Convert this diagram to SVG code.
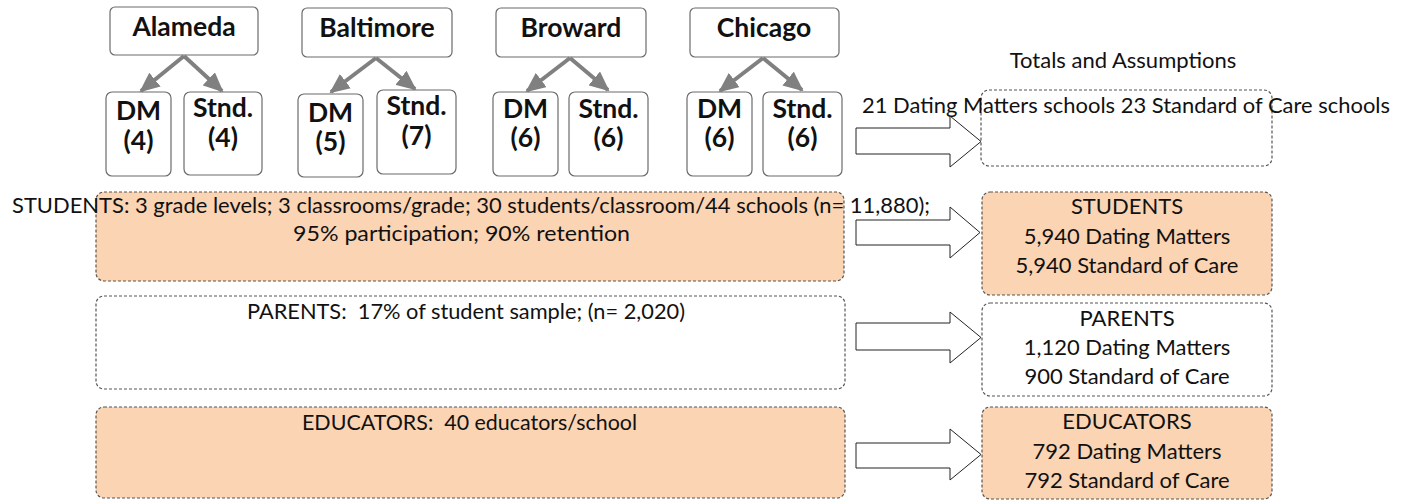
<svg xmlns="http://www.w3.org/2000/svg" width="1408" height="502" viewBox="0 0 1408 502">
<defs>
<style>
.city{fill:#fff;stroke:#6b6b6b;stroke-width:1.2}
.kid{fill:#fff;stroke:#6b6b6b;stroke-width:1.2}
.b{font-family:Lato,"Liberation Sans",sans-serif;font-weight:bold;font-size:26.5px;fill:#111;text-anchor:middle}
.t{font-family:Lato,"Liberation Sans",sans-serif;font-size:22px;fill:#111;text-anchor:middle;white-space:pre}
.dash{stroke:#555;stroke-width:1.2;stroke-dasharray:3 2}
.or{fill:#FAD4B3}
.wh{fill:#fff}
.blk{fill:#fff;stroke:#222;stroke-width:1}
.con{stroke:#808080;stroke-width:4;fill:none;marker-end:url(#ah)}
</style>
<marker id="ah" markerUnits="userSpaceOnUse" markerWidth="20" markerHeight="18" viewBox="0 0 20 18" refX="18" refY="9" orient="auto">
<path d="M0,0 L20,9 L0,18 z" fill="#808080"/>
</marker>
</defs>

<g id="alameda"><rect class="city" x="110" y="7" width="148" height="48" rx="5"/><text class="b" x="184" y="36">Alameda</text></g>
<g id="baltimore"><rect class="city" x="302" y="8" width="150" height="49" rx="5"/><text class="b" x="377" y="37">Baltimore</text></g>
<g id="broward"><rect class="city" x="496" y="8" width="150" height="49" rx="5"/><text class="b" x="571" y="37">Broward</text></g>
<g id="chicago"><rect class="city" x="690" y="8" width="149" height="49" rx="5"/><text class="b" x="764" y="37">Chicago</text></g>

<g id="alameda-dm"><rect class="kid" x="106" y="92" width="65" height="84" rx="6"/><text class="b" x="138.5" y="120">DM</text><text class="b" x="138.5" y="150">(4)</text></g>
<g id="alameda-stnd"><rect class="kid" x="184" y="92" width="78" height="83" rx="6"/><text class="b" x="223" y="117">Stnd.</text><text class="b" x="223" y="147">(4)</text></g>
<g id="baltimore-dm"><rect class="kid" x="298" y="94" width="65" height="83" rx="6"/><text class="b" x="330.5" y="122">DM</text><text class="b" x="330.5" y="151">(5)</text></g>
<g id="baltimore-stnd"><rect class="kid" x="377" y="90" width="79" height="84" rx="6"/><text class="b" x="416.5" y="115">Stnd.</text><text class="b" x="416.5" y="145">(7)</text></g>
<g id="broward-dm"><rect class="kid" x="493" y="92" width="65" height="84" rx="6"/><text class="b" x="525.5" y="118">DM</text><text class="b" x="525.5" y="147">(6)</text></g>
<g id="broward-stnd"><rect class="kid" x="569" y="92" width="79" height="84" rx="6"/><text class="b" x="608.5" y="118">Stnd.</text><text class="b" x="608.5" y="147">(6)</text></g>
<g id="chicago-dm"><rect class="kid" x="687" y="92" width="65" height="84" rx="6"/><text class="b" x="719.5" y="118">DM</text><text class="b" x="719.5" y="147">(6)</text></g>
<g id="chicago-stnd"><rect class="kid" x="763" y="92" width="79" height="84" rx="6"/><text class="b" x="802.5" y="118">Stnd.</text><text class="b" x="802.5" y="147">(6)</text></g>

<g id="students-left"><rect class="dash or" x="96" y="192" width="748" height="89" rx="8"/>
<text class="t" x="471" y="213" textLength="918" lengthAdjust="spacingAndGlyphs">STUDENTS: 3 grade levels; 3 classrooms/grade; 30 students/classroom/44 schools (n= 11,880);</text>
<text class="t" x="461.5" y="241" textLength="337" lengthAdjust="spacingAndGlyphs">95% participation; 90% retention</text></g>
<g id="parents-left"><rect class="dash wh" x="96" y="296" width="749" height="93" rx="8"/>
<text class="t" x="466" y="319" textLength="438" lengthAdjust="spacingAndGlyphs">PARENTS:  17% of student sample; (n= 2,020)</text></g>
<g id="educators-left"><rect class="dash or" x="96" y="407" width="749" height="91" rx="8"/>
<text class="t" x="469.5" y="430" textLength="335" lengthAdjust="spacingAndGlyphs">EDUCATORS:  40 educators/school</text></g>

<g id="totals"><text class="t" x="1123" y="68">Totals and Assumptions</text>
<rect class="dash wh" x="981" y="90" width="291" height="76" rx="8"/>
<text class="t" x="1126" y="113" textLength="528" lengthAdjust="spacingAndGlyphs">21 Dating Matters schools 23 Standard of Care schools</text></g>
<g id="students-right"><rect class="dash or" x="982" y="192" width="290" height="103" rx="8"/>
<text class="t" x="1127" y="214">STUDENTS</text><text class="t" x="1127" y="244">5,940 Dating Matters</text><text class="t" x="1127" y="273">5,940 Standard of Care</text></g>
<g id="parents-right"><rect class="dash wh" x="982" y="303" width="290" height="93" rx="8"/>
<text class="t" x="1127" y="326">PARENTS</text><text class="t" x="1127" y="355">1,120 Dating Matters</text><text class="t" x="1127" y="384">900 Standard of Care</text></g>
<g id="educators-right"><rect class="dash or" x="982" y="407" width="290" height="92" rx="8"/>
<text class="t" x="1127" y="429">EDUCATORS</text><text class="t" x="1127" y="459">792 Dating Matters</text><text class="t" x="1127" y="488">792 Standard of Care</text></g>

<g id="connectors">
<line class="con" x1="184" y1="56" x2="141" y2="91"/>
<line class="con" x1="184" y1="56" x2="222" y2="91"/>
<line class="con" x1="376" y1="58" x2="331" y2="92"/>
<line class="con" x1="376" y1="58" x2="415" y2="89"/>
<line class="con" x1="570" y1="58" x2="527" y2="91"/>
<line class="con" x1="570" y1="58" x2="608" y2="90"/>
<line class="con" x1="763" y1="58" x2="720" y2="91"/>
<line class="con" x1="763" y1="58" x2="802" y2="90"/>
<polygon class="blk" points="856,128 950,128 950,116 981,141.5 950,167 950,154 856,154"/>
<polygon class="blk" points="856,220 950,220 950,207 980,232.5 950,258 950,245 856,245"/>
<polygon class="blk" points="856,323 950,323 950,312 981,337.5 950,363 950,350 856,350"/>
<polygon class="blk" points="856,443 950,443 950,429 981,454.5 950,480 950,468 856,468"/>
</g>
</svg>
